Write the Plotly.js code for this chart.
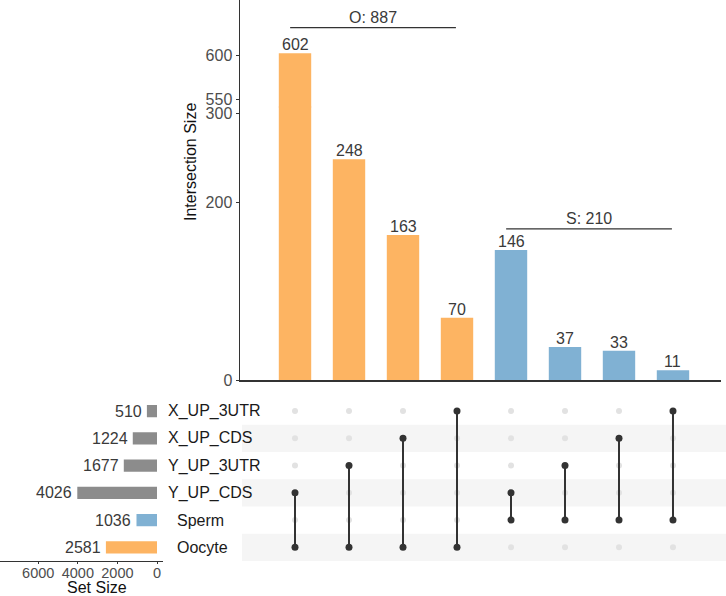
<!DOCTYPE html>
<html>
<head>
<meta charset="utf-8">
<script src="https://cdn.plot.ly/plotly-3.0.1.min.js"></script>
<style>html,body{margin:0;padding:0;background:#fff;}#chart{width:726px;height:596px;}</style>
</head>
<body>
<div id="chart"></div>
<script>
// ---- data ----
const setNames = ['Oocyte', 'Sperm', 'Y_UP_CDS', 'Y_UP_3UTR', 'X_UP_CDS', 'X_UP_3UTR'];
const setSizes = [2581, 1036, 4026, 1677, 1224, 510];
const intersectionSizes = [602, 248, 163, 70, 146, 37, 33, 11];
const intersectionSets = [
  ['Oocyte', 'Y_UP_CDS'], ['Oocyte', 'Y_UP_3UTR'], ['Oocyte', 'X_UP_CDS'], ['Oocyte', 'X_UP_3UTR'],
  ['Sperm', 'Y_UP_CDS'], ['Sperm', 'Y_UP_3UTR'], ['Sperm', 'X_UP_CDS'], ['Sperm', 'X_UP_3UTR']
];
const intersectionGroup = ['Oocyte', 'Oocyte', 'Oocyte', 'Oocyte', 'Sperm', 'Sperm', 'Sperm', 'Sperm'];
const groupLabels = ['O: 887', 'S: 210'];
const groupStart = [0, 4];
const groupEnd = [3, 7];
const yTicksLow = [0, 200, 300];
const yTicksHigh = [550, 600];
const setSizeTicks = [0, 2000, 4000, 6000];

// ---- styling ----
const W = 726, H = 596;
const fx = p => p / W;
const fy = p => 1 - p / H;
const FONT = 'Liberation Sans, Arial, sans-serif';
const TXT = '#3a3a3a';
const colorMap = {Oocyte: '#fdb462', Sperm: '#80b1d3'};
const setColors = setNames.map(s => colorMap[s] || '#8c8c8c');
const barColors = intersectionGroup.map(g => colorMap[g]);
const LOW_MAX = 307.3, HIGH_MIN = 541.0, HIGH_MAX = 661.8;
const cols = intersectionSizes.map((_, i) => i);
const rows = setNames.map((_, i) => i);

const traces = [];
// intersection bars drawn on both halves of the broken axis
['y', 'y2'].forEach(ya => traces.push({
  type: 'bar', x: cols, y: intersectionSizes, xaxis: 'x', yaxis: ya,
  marker: {color: barColors, line: {width: 0}}, width: 0.6, hoverinfo: 'x+y', showlegend: false
}));
// matrix: inactive dots
const inX = [], inY = [];
cols.forEach(c => rows.forEach(r => {
  if (!intersectionSets[c].includes(setNames[r])) { inX.push(c); inY.push(r); }
}));
traces.push({type: 'scatter', mode: 'markers', x: inX, y: inY, xaxis: 'x', yaxis: 'y3',
  marker: {color: '#e2e2e2', size: 6}, hoverinfo: 'skip', showlegend: false});
// matrix: active dots + connecting lines
cols.forEach(c => {
  const rs = intersectionSets[c].map(s => setNames.indexOf(s)).sort((a, b) => a - b);
  traces.push({type: 'scatter', mode: 'lines+markers', x: rs.map(() => c), y: rs,
    xaxis: 'x', yaxis: 'y3', line: {color: '#333333', width: 2},
    marker: {color: '#333333', size: 7}, hoverinfo: 'skip', showlegend: false});
});
// set size bars
traces.push({type: 'bar', orientation: 'h', x: setSizes, y: rows, xaxis: 'x4', yaxis: 'y3',
  marker: {color: setColors, line: {width: 0}}, width: 0.45, hoverinfo: 'x', showlegend: false});

const shapes = [];
const annotations = [];
rows.forEach(r => {
  if (r % 2 === 0) shapes.push({type: 'rect', xref: 'paper', yref: 'y3', x0: fx(242), x1: 1,
    y0: r - 0.5, y1: r + 0.5, fillcolor: '#f5f5f5', line: {width: 0}, layer: 'below'});
});
// intersection value labels
cols.forEach(i => {
  const v = intersectionSizes[i];
  annotations.push({xref: 'x', yref: v <= LOW_MAX ? 'y' : 'y2', x: i, y: v, text: String(v),
    showarrow: false, yanchor: 'bottom', xanchor: 'center', yshift: -2,
    font: {family: FONT, size: 16, color: TXT}});
});
// set size value labels
rows.forEach(r => {
  annotations.push({xref: 'x4', yref: 'y3', x: setSizes[r], y: r, text: String(setSizes[r]),
    showarrow: false, xanchor: 'right', xshift: -3, font: {family: FONT, size: 16, color: TXT}});
});
// group brackets
const groupLineY = [{ya: 'y2', v: 630.7}, {ya: 'y', v: 169.7}];
groupLabels.forEach((lab, g) => {
  const x0 = groupStart[g] - 0.09, x1 = groupEnd[g] - 0.02;
  shapes.push({type: 'line', xref: 'x', yref: groupLineY[g].ya, x0: x0, x1: x1,
    y0: groupLineY[g].v, y1: groupLineY[g].v, line: {color: '#333333', width: 1.3}});
  annotations.push({xref: 'x', yref: groupLineY[g].ya, x: (x0 + x1) / 2, y: groupLineY[g].v,
    text: lab, showarrow: false, yanchor: 'bottom', yshift: 0,
    font: {family: FONT, size: 16, color: TXT}});
});
// set names
setNames.forEach((s, r) => {
  annotations.push({xref: 'paper', yref: 'y3', x: fx(colorMap[s] ? 175 : 166), y: r,
    xanchor: 'left', text: s, showarrow: false, font: {family: FONT, size: 16, color: '#1a1a1a'}});
});
annotations.push({xref: 'paper', yref: 'paper', x: fx(190), y: fy(162), xanchor: 'center', yanchor: 'middle',
  text: 'Intersection Size', textangle: -90, showarrow: false, font: {family: FONT, size: 16, color: '#111'}});
annotations.push({xref: 'paper', yref: 'paper', x: fx(97), y: 0, xanchor: 'center', yanchor: 'bottom',
  yshift: -2, text: 'Set Size', showarrow: false, font: {family: FONT, size: 16, color: '#111'}});

const yStyle = {showline: true, linecolor: '#333333', linewidth: 1.5, ticks: 'outside', ticklen: 3,
  tickcolor: '#333333', tickfont: {family: FONT, size: 16, color: '#4d4d4d'},
  showgrid: false, zeroline: false, fixedrange: true, anchor: 'x', tickmode: 'array'};

const layout = {
  width: W, height: H, margin: {l: 0, r: 0, t: 0, b: 0},
  paper_bgcolor: '#ffffff', plot_bgcolor: 'rgba(0,0,0,0)', showlegend: false,
  font: {family: FONT},
  xaxis: {domain: [fx(240), fx(721)], range: [-1.0185, 7.889], anchor: 'y', showline: true,
    linecolor: '#333333', linewidth: 1.5, showticklabels: false, ticks: '', showgrid: false,
    zeroline: false, fixedrange: true},
  yaxis: Object.assign({}, yStyle, {domain: [fy(380), fy(106.5)], range: [0, LOW_MAX], tickvals: yTicksLow}),
  yaxis2: Object.assign({}, yStyle, {domain: [fy(107.5), 1], range: [HIGH_MIN, HIGH_MAX], tickvals: yTicksHigh}),
  yaxis3: {domain: [fy(561), fy(397.4)], range: [-0.5, 5.5], visible: false, anchor: 'x4', fixedrange: true},
  xaxis4: {domain: [0, fx(163)], range: [7930, -303], anchor: 'y3', showline: true, linecolor: '#333333',
    linewidth: 1.3, ticks: 'outside', ticklen: 2, tickcolor: '#333333', tickmode: 'array', tickvals: setSizeTicks,
    ticklabelstandoff: -4,
    tickfont: {family: FONT, size: 14.5, color: '#4d4d4d'}, showgrid: false, zeroline: false, fixedrange: true},
  shapes: shapes, annotations: annotations
};
Plotly.newPlot('chart', traces, layout, {displayModeBar: false, staticPlot: true});
</script>
</body>
</html>
